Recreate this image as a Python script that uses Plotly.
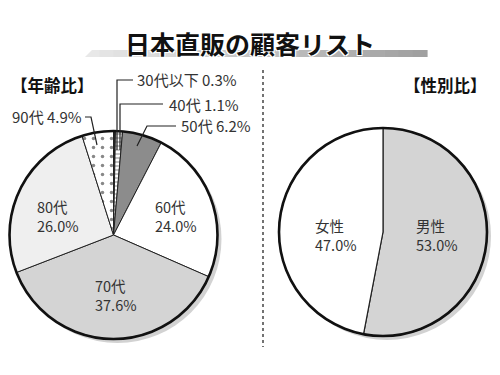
import plotly.graph_objects as go

W, H = 500, 375
OFF = 8  # browser body margin

# ---- data ----
age_labels = ["30代以下", "40代", "50代", "60代", "70代", "80代", "90代"]
age_values = [0.3, 1.1, 6.2, 24.0, 37.6, 26.0, 4.9]
age_colors = ["#222222", "#ffffff", "#8c8c8c", "#ffffff", "#d4d4d4", "#efefef", "#ffffff"]
age_patterns = ["", "-", "", "", "", "", "."]

sex_labels = ["男性", "女性"]
sex_values = [53.0, 47.0]
sex_colors = ["#d4d4d4", "#ffffff"]

title_text = "日本直販の顧客リスト"
age_title = "【年齢比】"
sex_title = "【性別比】"

FONT = "Noto Sans CJK JP"


def px(x):
    return (x - OFF) / W


def py(y):
    return 1 - (y - OFF) / H


def dom(cx, cy, r, dx=0, dy=0):
    return dict(x=[px(cx - r + dx), px(cx + r + dx)], y=[py(cy + r + dy), py(cy - r + dy)])


L_C = (113.5, 235)
R_C = (383, 232)
RAD = 104

fig = go.Figure()

# shadows
for (cx, cy) in (L_C, R_C):
    fig.add_trace(go.Pie(values=[1], domain=dom(cx, cy, RAD, 4, 4), sort=False,
                         marker=dict(colors=["#d2d2d2"], line=dict(width=0)),
                         textinfo="none", hoverinfo="skip", showlegend=False))

# age pie
fig.add_trace(go.Pie(labels=age_labels, values=age_values, domain=dom(*L_C, RAD),
                     sort=False, direction="clockwise", rotation=0,
                     marker=dict(colors=age_colors, line=dict(color="#222222", width=1),
                                 pattern=dict(shape=age_patterns, fgcolor="#111111",
                                              bgcolor="#ffffff", size=[1, 4, 1, 1, 1, 1, 9],
                                              solidity=[0.2, 0.25, 0.2, 0.2, 0.2, 0.2, 0.12],
                                              fillmode="overlay")),
                     textinfo="none", hoverinfo="skip", showlegend=False))

# sex pie
fig.add_trace(go.Pie(labels=sex_labels, values=sex_values, domain=dom(*R_C, RAD),
                     sort=False, direction="clockwise", rotation=0,
                     marker=dict(colors=sex_colors, line=dict(color="#222222", width=1.2)),
                     textinfo="none", hoverinfo="skip", showlegend=False))

# outer outlines
for (cx, cy) in (L_C, R_C):
    fig.add_trace(go.Pie(values=[1], domain=dom(cx, cy, RAD), sort=False,
                         marker=dict(colors=["rgba(0,0,0,0)"], line=dict(color="#111111", width=2.6)),
                         textinfo="none", hoverinfo="skip", showlegend=False))

shapes = []
# gradient bar under title
x0, x1, yt, yb, slant = 85, 427, 50, 57, 7
n = 24
for i in range(n):
    a = x0 + (x1 - x0) * i / n
    b = x0 + (x1 - x0) * (i + 1) / n + 0.6
    t = i / (n - 1)
    g = int(232 - (232 - 160) * t)
    col = f"rgb({g},{g},{g})"
    if i == 0:
        path = f"M{px(a)},{py(yb)} L{px(a + slant)},{py(yt)} L{px(b)},{py(yt)} L{px(b)},{py(yb)} Z"
    else:
        path = f"M{px(a)},{py(yb)} L{px(a)},{py(yt)} L{px(b)},{py(yt)} L{px(b)},{py(yb)} Z"
    shapes.append(dict(type="path", path=path, xref="paper", yref="paper",
                       fillcolor=col, line=dict(width=0), layer="below"))

# dotted divider
shapes.append(dict(type="line", xref="paper", yref="paper", x0=px(263), x1=px(263),
                   y0=py(70), y1=py(347), line=dict(color="#444444", width=1.5, dash="dot")))


def leader(points):
    p = "M" + " L".join(f"{px(x)},{py(y)}" for x, y in points)
    return dict(type="path", path=p, xref="paper", yref="paper",
                line=dict(color="#222222", width=1.2), layer="above")


shapes += [
    leader([(133, 80), (117, 80), (117, 150)]),
    leader([(163, 104), (120, 104), (120, 150)]),
    leader([(176, 126), (147, 126), (137, 146)]),
    leader([(85, 117), (91, 117), (97, 145)]),
]

ann = []


def text(x, y, s, size=15, anchor="left", color="#333333", weight="normal", shadow=None, align="left"):
    f = dict(family=FONT, size=size, color=color, weight=weight)
    if shadow:
        f["shadow"] = shadow
    ann.append(dict(x=px(x), y=py(y), xref="paper", yref="paper", text=s, showarrow=False,
                    xanchor=anchor, yanchor="middle", align=align, font=f))


text(250, 43, title_text, size=25, anchor="center", color="#111111", weight="bold",
     shadow="1px 1px 0 #fff, -1px -1px 0 #fff, 1px -1px 0 #fff, -1px 1px 0 #fff")
text(8.5, 85, age_title, size=16.5, color="#111111", weight="bold")
text(489, 85, sex_title, size=16.5, anchor="right", color="#111111", weight="bold")

pct = [f"{v:.1f}%" for v in age_values]
text(135, 80, f"{age_labels[0]} {pct[0]}")
text(167, 104, f"{age_labels[1]} {pct[1]}")
text(179, 125, f"{age_labels[2]} {pct[2]}")
text(84, 117, f"{age_labels[6]} {pct[6]}", anchor="right")

for lab, p, x, y in [(age_labels[3], pct[3], 153, 216), (age_labels[4], pct[4], 93, 295),
                     (age_labels[5], pct[5], 35, 216)]:
    text(x, y, f"{lab}<br>{p}", size=14.5)

spct = [f"{v:.1f}%" for v in sex_values]
text(414, 235, f"{sex_labels[0]}<br>{spct[0]}", size=14.5)
text(313, 235, f"{sex_labels[1]}<br>{spct[1]}", size=14.5)

fig.update_layout(width=W, height=H, margin=dict(l=0, r=0, t=0, b=0),
                  paper_bgcolor="#ffffff", plot_bgcolor="#ffffff", showlegend=False,
                  shapes=shapes, annotations=ann)

fig.write_html("out.html")
